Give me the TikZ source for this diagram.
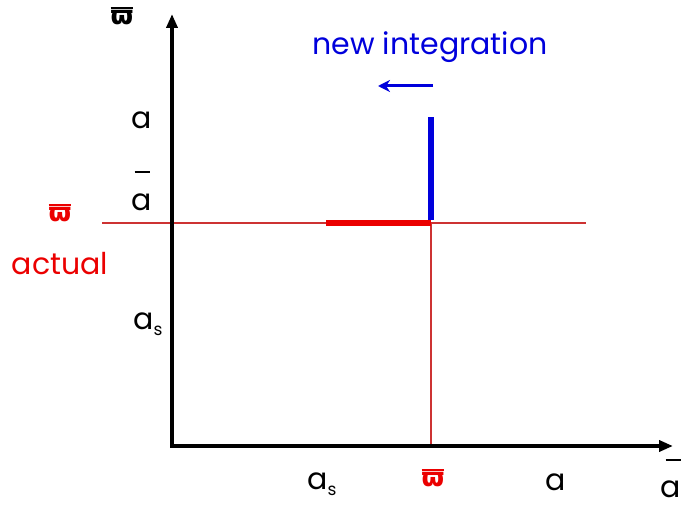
\documentclass[tikz,border=0pt]{standalone}
\usepackage{fontspec}
\setmainfont{Poppins}
\newfontfamily\djv{DejaVu Sans}
\usetikzlibrary{arrows.meta}
\definecolor{thinred}{RGB}{205,50,50}
\definecolor{boldred}{RGB}{235,0,0}
\definecolor{boldblue}{RGB}{0,0,220}
\newcommand{\wbar}{\vbox{\hrule height 2pt\kern1.5pt\hbox{\djv\bfseries ϖ}}}
\newcommand{\asub}{a\raisebox{-6pt}{\fontsize{17}{19}\selectfont s}}
\tikzset{
  axis/.style={line width=3.5pt,-{Triangle[length=14pt,width=11pt]}},
  guide/.style={thinred,line width=1.3pt},
  lbl/.style={font=\fontsize{30}{34}\selectfont,inner sep=0pt},
  wlbl/.style={font=\fontsize{26}{28}\selectfont,inner sep=0pt},
  redlbl/.style={lbl,text=boldred},
}
\begin{document}
\begin{tikzpicture}[x=1pt,y=-1pt]
\useasboundingbox (0,0) rectangle (683,508);
\coordinate (O) at (172,446);
\coordinate (ytop) at (172,14);
\coordinate (xend) at (673,446);
\coordinate (hl) at (102,223);
\coordinate (hr) at (586,223);
\coordinate (P) at (431,223);
\coordinate (Pb) at (431,446);
\coordinate (rs) at (326,223);
\coordinate (bt) at (431,117);
\coordinate (arS) at (433,86);
\coordinate (arE) at (378,86);
% guides
\draw[guide] (hl) -- (hr);
\draw[guide] (P) -- (Pb);
% axes
\draw[axis] (O) -- (ytop);
\draw[axis] ([xshift=-1.75pt]O) -- (xend);
% bold segments
\draw[boldred,line width=6pt] (rs) -- (P);
\draw[boldblue,line width=6pt] ([yshift=3pt]P) -- (bt);
\draw[boldblue,line width=3pt,-{Stealth[length=12pt,width=12pt]}] (arS) -- (arE);
% labels
\node[lbl,text=boldblue] (ni) at (430,47) {new integration};
\node[wlbl] (ylab) at (122,16) {\wbar};
\node[lbl] (ya) at (142,120) {a};
\node[lbl] (ybar) at (142,172) {\rule{15pt}{2.2pt}};
\node[lbl] (ya2) at (142,202) {a};
\node[wlbl,text=boldred] (wr) at (60,213) {\wbar};
\node[redlbl] (act) at (60,264) {actual};
\node[lbl] (yas) at (148,324) {\asub};
\node[lbl] (xas) at (322,484) {\asub};
\node[wlbl,text=boldred] (xw) at (433,478) {\wbar};
\node[lbl] (xa) at (556,482) {a};
\node[lbl] (xbar) at (673,460) {\rule{15pt}{2.2pt}};
\node[lbl] (xa2) at (671,489) {a};
\end{tikzpicture}
\end{document}
